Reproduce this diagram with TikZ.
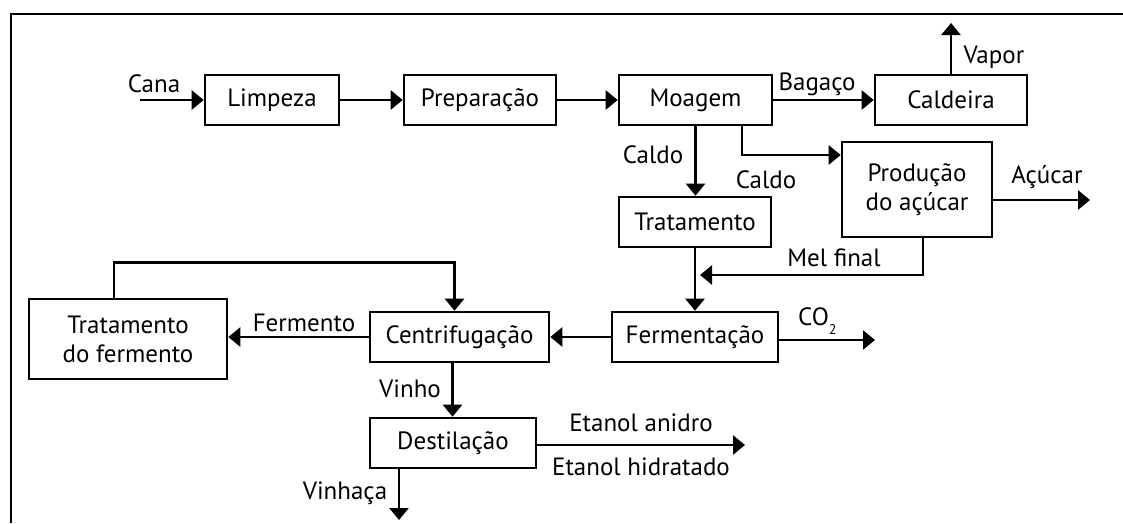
\documentclass[tikz,border=0pt]{standalone}
\usepackage{fontspec}
\setmainfont{PT Sans}
\usetikzlibrary{arrows.meta}
\tikzstyle{proc}=[draw, line width=2.6pt, inner sep=0pt, minimum height=50pt, align=center]
\tikzstyle{flow}=[line width=2.6pt, -{Triangle[length=12pt,width=19pt]}]

\begin{document}
\begin{tikzpicture}[x=1pt, y=-1pt, font=\fontsize{25}{29}\selectfont]
        \useasboundingbox (0,0) rectangle (1123,523);
        \draw[line width=2.6pt] (11,523) -- (11,14) -- (1123,14);
        % boxes
        \node[proc, minimum width=134pt] (limpeza) at (272,100) {Limpeza};
        \node[proc, minimum width=152pt] (prep) at (480,100) {Preparação};
        \node[proc, minimum width=153pt] (moagem) at (695.5,100) {Moagem};
        \node[proc, minimum width=152pt] (caldeira) at (951,100) {Caldeira};
        \node[proc, minimum width=150pt, minimum height=95pt] (producao) at (917,189.5) {Produção\\do açúcar};
        \node[proc, minimum width=152pt] (tratamento) at (695,222) {Tratamento};
        \node[proc, minimum width=166pt] (ferment) at (695,337) {Fermentação};
        \node[proc, minimum width=179pt] (centrif) at (459.5,337) {Centrifugação};
        \node[proc, minimum width=198pt, minimum height=80pt] (tratferm) at (128,339) {Tratamento\\do fermento};
        \node[proc, minimum width=166pt] (destil) at (453,443) {Destilação};
        % free ends
        \coordinate (cana) at (140,100);
        \coordinate (vapor) at (951,23);
        \coordinate (acucar) at (1090,200);
        \coordinate (mel) at (700,275);
        \coordinate (co) at (875,340);
        \coordinate (etanol) at (745,445);
        \coordinate (vinhaca) at (399,520);
        % flows
        \draw[flow] (cana) -- (limpeza.west);
        \draw[flow] (limpeza) -- (prep);
        \draw[flow] (prep) -- (moagem);
        \draw[flow] (moagem) -- (caldeira);
        \draw[flow] (caldeira.north) -- (vapor);
        \draw[flow] (moagem.south) -- (moagem.south |- tratamento.north);
        \draw[flow] ([xshift=46.5pt]moagem.south) |- ([yshift=34.5pt]producao.west);
        \draw[flow] ([yshift=-10.5pt]producao.east) -- (acucar);
        \draw[flow] ([xshift=6pt]producao.south) |- (mel);
        \draw[flow] (tratamento.south) -- (tratamento.south |- ferment.north);
        \draw[flow] ([yshift=-3pt]ferment.east) -- (co);
        \draw[flow] (ferment) -- (centrif);
        \draw[flow] (centrif.west) -- (centrif.west -| tratferm.east);
        \draw[flow] ([xshift=-14pt]tratferm.north) -- ++(0,-35) -| ([xshift=-5pt]centrif.north);
        \draw[flow] ([xshift=-7pt]centrif.south) -- ([xshift=-7pt]centrif.south |- destil.north);
        \draw[flow] ([yshift=-2pt]destil.east) -- (etanol);
        \draw[flow] ([xshift=-54pt]destil.south) -- (vinhaca);
        % labels
        \node (lcana) at (154,84) {Cana};
        \node (lbagaco) at (817,84) {Bagaço};
        \node[anchor=base west] (lvapor) at (960,63) {Vapor};
        \node (lcaldoa) at (653,155) {Caldo};
        \node (lcaldob) at (766,180) {Caldo};
        \node (lacucar) at (1047,177) {Açúcar};
        \node (lmel) at (834,258) {Mel final};
        \node[anchor=base west, inner sep=0pt] (lco) at (798,325) {CO\raisebox{-9pt}{\fontsize{14}{14}\selectfont 2}};
        \node (lferm) at (304,323) {Fermento};
        \node (lvinho) at (410,389) {Vinho};
        \node (lvinhaca) at (345,493) {Vinhaça};
        \node (lanidro) at (641,423) {Etanol anidro};
        \node (lhidr) at (641,467) {Etanol hidratado};
\end{tikzpicture}
\end{document}
